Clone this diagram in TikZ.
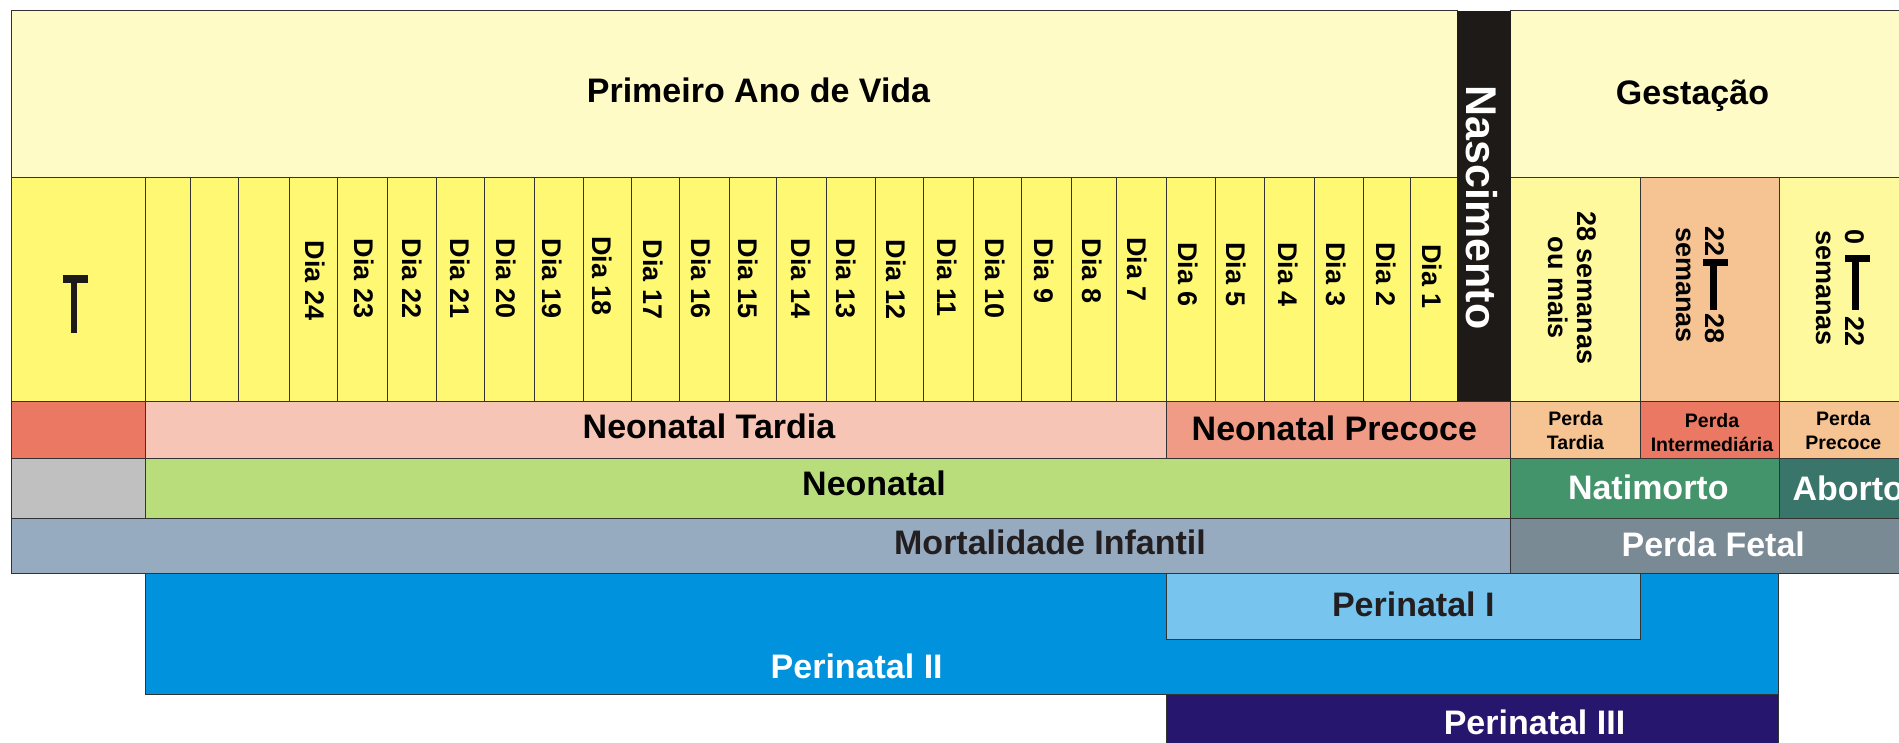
\documentclass[tikz,border=0pt]{standalone}
\usepackage{fontspec}
\setmainfont{Liberation Sans}
\definecolor{hdr}{HTML}{FFFBC6}
\definecolor{dayy}{HTML}{FFF873}
\definecolor{gesty}{HTML}{FFF99E}
\definecolor{peach}{HTML}{F6C392}
\definecolor{salmon}{HTML}{F09B86}
\definecolor{pinkc}{HTML}{F6C5B5}
\definecolor{redc}{HTML}{EB7862}
\definecolor{grayc}{HTML}{C0C0C0}
\definecolor{greenc}{HTML}{BADD7C}
\definecolor{natim}{HTML}{43936B}
\definecolor{abort}{HTML}{3A756C}
\definecolor{mort}{HTML}{97ABC0}
\definecolor{fetal}{HTML}{798A94}
\definecolor{ptwo}{HTML}{0092DC}
\definecolor{pone}{HTML}{77C4EF}
\definecolor{pthree}{HTML}{26166E}
\definecolor{nasc}{HTML}{1E1A17}
\definecolor{linec}{HTML}{333333}
\definecolor{darktext}{HTML}{231F20}
\newcommand\fsbig{\fontsize{34}{40}\selectfont\bfseries}
\newcommand\fsdia{\fontsize{27}{29}\selectfont\bfseries}
\newcommand\fsgest{\fontsize{27}{28.3}\selectfont\bfseries}
\newcommand\fsperda{\fontsize{19.5}{24}\selectfont\bfseries}
\newcommand\fsnasc{\fontsize{43}{48}\selectfont\bfseries}
\begin{document}
\begin{tikzpicture}[x=1pt,y=-1pt,
  every node/.style={inner sep=0pt, outer sep=0pt},
  cell/.style={draw=linec, line width=1pt},
  bigtext/.style={font=\fsbig, anchor=base},
  diatext/.style={font=\fsdia, rotate=-90, anchor=west},
  gesttext/.style={font=\fsgest, rotate=-90, anchor=center, align=center},
  perdatext/.style={font=\fsperda, anchor=center, align=center}]
\useasboundingbox (0,0) rectangle (1899,742);
\clip (0,0) rectangle (1899,742);

% header row
\draw[cell, fill=hdr] (11.3,10.7) rectangle (1457.3,177);
\draw[cell, fill=hdr] (1510.7,10.7) rectangle (1920,177);

% days row
\draw[cell, fill=dayy] (11.3,177) rectangle (1457.3,401.3);
\foreach \x in {145,190,238,289,337,387,436,484.3,534.3,583.3,631.7,679.7,729.7,776.7,826.3,875.7,923.7,973.3,1021,1071,1116.8,1166.2,1215.7,1264.1,1314,1363.4,1410.3}
  \draw[cell] (\x,177) -- (\x,401.3);

% gestation columns
\draw[cell, fill=gesty] (1510.7,177) rectangle (1640.5,401.3);
\draw[cell, fill=peach] (1640.5,177) rectangle (1779,401.3);
\draw[cell, fill=gesty] (1779,177) rectangle (1920,401.3);

% nascimento bar
\fill[nasc] (1457.3,10.7) rectangle (1510.7,401.3);

% row 3
\draw[cell, fill=redc] (11.3,401.3) rectangle (145,458.2);
\draw[cell, fill=pinkc] (145,401.3) rectangle (1166.2,458.7);
\draw[cell, fill=salmon] (1166.2,401.3) rectangle (1510.7,458.7);
\draw[cell, fill=peach] (1510.7,401.3) rectangle (1640.5,458.7);
\draw[cell, fill=redc] (1640.5,401.3) rectangle (1779,458.7);
\draw[cell, fill=peach] (1779,401.3) rectangle (1920,458.7);

% row 4
\draw[cell, fill=grayc] (11.3,458.7) rectangle (145,518.3);
\draw[cell, fill=greenc] (145,458.7) rectangle (1510.7,518.3);
\draw[cell, fill=natim] (1510.7,458.7) rectangle (1779,518.3);
\draw[cell, fill=abort] (1779,458.7) rectangle (1920,518.3);

% row 5
\draw[cell, fill=mort] (11.3,518.3) rectangle (1510.7,573.3);
\draw[cell, fill=fetal] (1510.7,518.3) rectangle (1920,573.3);

% perinatal
\draw[cell, fill=ptwo] (145,573.3) rectangle (1778.7,694.3);
\draw[cell, fill=pone] (1166.2,573.3) rectangle (1640.5,639.3);
\draw[cell, fill=pthree] (1166.2,694.3) rectangle (1778.7,760);

% T symbol in first column
\fill[nasc] (63,275) rectangle (88,283);
\fill[nasc] (71,283) rectangle (77,333);

% texts
\node[bigtext] (primeiro) at (758.5,102) {Primeiro Ano de Vida};
\node[bigtext] (gestacao) at (1692.5,104) {Gestação};
\node[font=\fsnasc, text=white, rotate=-90, anchor=center] (nascimento) at (1482.3,207.5) {Nascimento};

\foreach \d/\x/\y in {24/315/240.7,23/364/238.7,22/411.7/238.7,21/460/238.7,20/505.7/238.7,19/552/238.7,18/602/236.3,17/652.7/239.7,16/700.7/238.7,15/748.3/238.7,14/801/238.7,13/846/238.7,12/896/239.7,11/947.3/238.7,10/995.5/238.7,9/1044/238.7,8/1092.5/238.7,7/1137.5/237.3,6/1188.5/242.3,5/1236.6/242.3,4/1287.8/242.3,3/1336.4/242.3,2/1386/242.3,1/1432/244}
  \node[diatext] (dia\d) at (\x,\y) {Dia \d};

\node[gesttext] (g28) at (1572.2,287.7) {28 semanas\\ou mais};
\node[gesttext] (g2228) at (1702.2,285) {22\hspace{2.5pt}\rule[-2.3pt]{6.7pt}{25pt}\rule[5pt]{44pt}{6.7pt}\hspace{3.5pt}28\\semanas};
\node[gesttext] (g022) at (1843.3,288) {0\hspace{11pt}\rule{6.7pt}{25pt}\rule[6.7pt]{48pt}{7.3pt}\hspace{7pt}22\\semanas};

\node[bigtext] (ntardia) at (709,438) {Neonatal Tardia};
\node[bigtext] (nprecoce) at (1334.4,440) {Neonatal Precoce};
\node[perdatext] (ptardia) at (1575.5,430.9) {Perda\\Tardia};
\node[perdatext] (pinter) at (1712,433) {Perda\\Intermediária};
\node[perdatext] (pprecoce) at (1843.3,430.9) {Perda\\Precoce};

\node[bigtext] (neonatal) at (874,495.7) {Neonatal};
\node[bigtext, text=white] (natimorto) at (1648.3,499.3) {Natimorto};
\node[bigtext, text=white, anchor=base west] (aborto) at (1792.5,500) {Aborto};

\node[bigtext, text=darktext] (mortalidade) at (1050,554.3) {Mortalidade Infantil};
\node[bigtext, text=white] (perdafetal) at (1713.3,556.7) {Perda Fetal};

\node[bigtext, text=darktext] (perI) at (1413.3,616.7) {Perinatal I};
\node[bigtext, text=white] (perII) at (856.7,678.7) {Perinatal II};
\node[bigtext, text=white] (perIII) at (1534.5,734) {Perinatal III};
\end{tikzpicture}
\end{document}
